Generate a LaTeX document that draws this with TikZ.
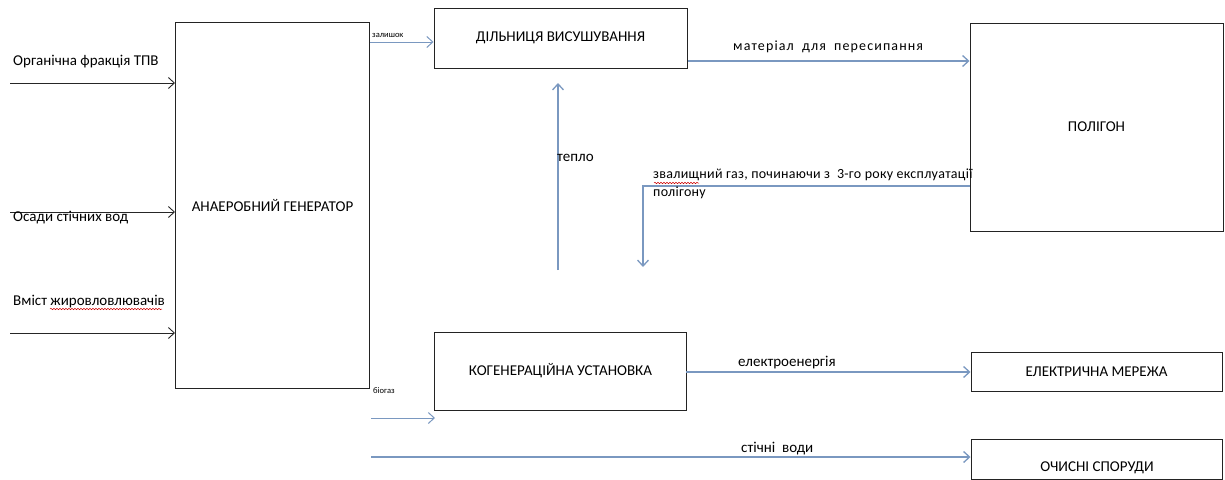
\documentclass[tikz,border=0pt]{standalone}
\usepackage{fontspec}
\setmainfont{Carlito}
\usetikzlibrary{arrows.meta,positioning,decorations.pathmorphing}
\definecolor{flowblue}{RGB}{122,152,192}
\definecolor{boxline}{RGB}{35,35,35}

\begin{document}
\begin{tikzpicture}[x=1pt,y=-1pt,
  unit/.style={rectangle,draw=boxline,line width=1pt,inner sep=0pt,
    font=\fontsize{15}{17}\selectfont,align=center},
  inflow/.style={-{Straight Barb[length=6pt,width=11pt]},line width=0.9pt,color=black!85},
  flow/.style={-{Straight Barb[length=6pt,width=11pt]},line width=1.3pt,color=flowblue},
  lbl/.style={anchor=west,inner sep=0pt,font=\fontsize{15}{17}\selectfont},
  spaced/.style={anchor=west,inner sep=0pt,
    font=\fontsize{14}{18}\selectfont\addfontfeature{LetterSpace=2}},
  small/.style={anchor=west,inner sep=0pt,font=\fontsize{8.5}{10}\selectfont},
  spell/.style={draw=red!80!black,line width=0.5pt,decorate,
    decoration={snake,amplitude=0.7pt,segment length=3pt}},
]
  \useasboundingbox (0,0) rectangle (1225,479);

  % boxes
  \node[unit,minimum width=194,minimum height=366] (gen) at (272.5,205.5) {АНАЕРОБНИЙ ГЕНЕРАТОР};
  \node[unit,minimum width=253,minimum height=60]  (dry) at (560.5,38)    {ДІЛЬНИЦЯ ВИСУШУВАННЯ};
  \node[unit,minimum width=253,minimum height=208] (pol) at (1096.5,127)  {ПОЛІГОН};
  \node[unit,minimum width=252,minimum height=78]  (cog) at (560.5,371)   {КОГЕНЕРАЦІЙНА УСТАНОВКА};
  \node[unit,minimum width=251,minimum height=39]  (grid) at (1096.5,371.5) {ЕЛЕКТРИЧНА МЕРЕЖА};
  \node[unit,minimum width=251,minimum height=40]  (ochysni) at (1096.5,459) {};
  \node[lbl,anchor=center] (ochysnitxt) at (1097,468) {ОЧИСНІ СПОРУДИ};

  % inputs
  \coordinate (in1) at (10,83);
  \coordinate (in2) at (10,212);
  \coordinate (in3) at (10,333);
  \draw[inflow] (in1) -- (in1 -| gen.west);
  \draw[inflow] (in2) -- (in2 -| gen.west);
  \draw[inflow] (in3) -- (in3 -| gen.west);
  \node[lbl] (orgtxt) at (13,62)  {Органічна фракція ТПВ};
  \node[lbl] (osadtxt) at (13,218) {Осади стічних вод};
  \node[lbl] (zhyrtxt) at (13,302) {Вміст жировловлювачів};
  \draw[spell] (50,309) -- (162,309);

  % flows
  \coordinate (zal) at (370,42);
  \draw[flow,line width=1pt] (zal) -- (zal -| dry.west);
  \node[small] (zaltxt) at (372,35) {залишок};

  \coordinate (mat) at (688,61);
  \draw[flow] (mat) -- (mat -| pol.west);
  \node[spaced,font=\fontsize{14}{18}\selectfont\addfontfeature{LetterSpace=8}] (mattxt) at (733,47)
    {матеріал\hspace{4pt} для\hspace{4pt} пересипання};

  \coordinate (heatlo) at (558,270);
  \coordinate (heathi) at (558,83);
  \draw[flow] (heatlo) -- (heathi);
  \node[lbl] (heattxt) at (557,158) {тепло};

  \coordinate (gasbend) at (643,186);
  \coordinate (gasend) at (643,267);
  \draw[flow] (gasbend -| pol.west) -- (gasbend) -- (gasend);
  \node[spaced,anchor=north west,align=left] (gastxt) at (653,169)
    {звалищний газ, починаючи з \ 3-го року експлуатації\\полігону};
  \draw[spell] (654,183) -- (699,183);

  \coordinate (el) at (686,372);
  \draw[flow] (el) -- (el -| grid.west);
  \node[lbl] (eltxt) at (738,363) {електроенергія};

  \coordinate (bio) at (371,418);
  \coordinate (bioend) at (435,418);
  \draw[flow,line width=1pt] (bio) -- (bioend);
  \node[small] (biotxt) at (373,391) {біогаз};

  \coordinate (waste) at (371,457);
  \draw[flow] (waste) -- (waste -| ochysni.west);
  \node[lbl] (wastetxt) at (741,449) {стічні \ води};
\end{tikzpicture}
\end{document}
